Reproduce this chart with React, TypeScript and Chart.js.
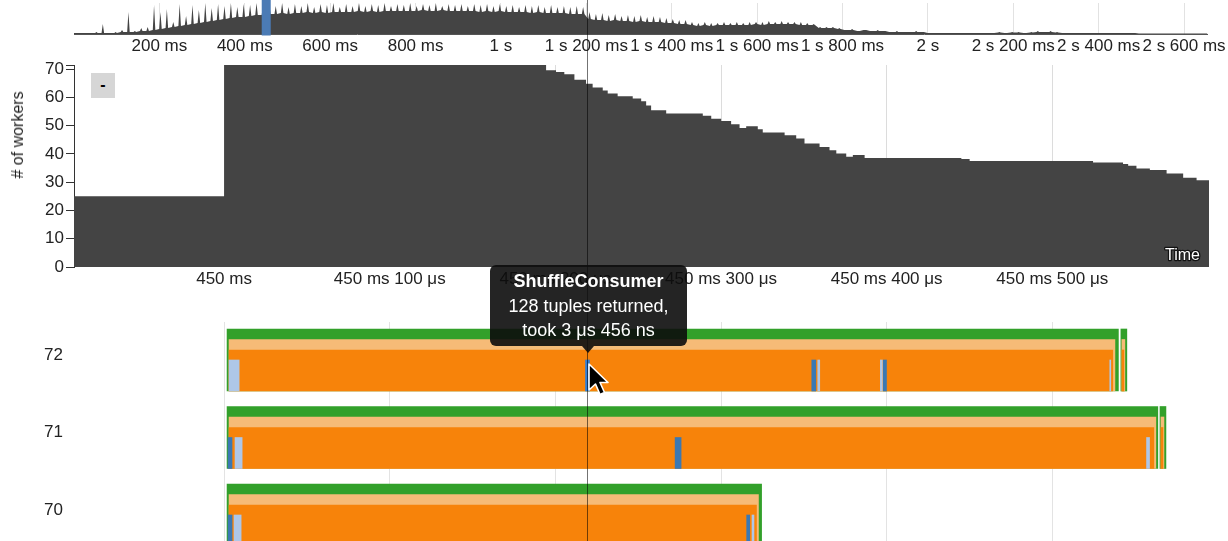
import React, { useEffect, useRef } from 'react';
import { Chart, registerables } from 'chart.js';

Chart.register(...registerables);

const FONT = "'Liberation Sans', Arial, Helvetica, sans-serif";
const TEXT = '#222';

// ---------- overview (whole query, ms) ----------
const overviewBinMs = 15;
const overviewEndMs = 2655;
// per 15 ms bin: solid level and thin spike top
const overviewBase = [
  1, 1, 1, 1, 1, 1, 1, 2, 2, 2,
  3, 3, 4, 5, 6, 7, 8, 9, 10, 11,
  12, 13, 14, 15, 16, 17, 17, 18, 19, 19,
  20, 20, 21, 20, 21, 21, 22, 21, 22, 21,
  22, 22, 22, 22, 23, 22, 23, 22, 23, 23,
  23, 23, 23, 23, 24, 23, 23, 24, 23, 23,
  23, 23, 23, 22, 23, 22, 23, 22, 22, 22,
  22, 21, 22, 21, 21, 21, 21, 20, 20, 20,
  15, 14, 14, 13, 14, 13, 13, 12, 13, 12,
  12, 12, 11, 11, 10, 10, 9, 8, 9, 8,
  9, 9, 9, 9, 9, 9, 10, 9, 10, 10,
  10, 10, 10, 9, 9, 9, 6, 6, 6, 5,
  4, 4, 3, 4, 3, 3, 3, 2, 2, 2,
  2, 2, 2, 1, 1, 1, 1, 1, 1, 1,
  1, 1, 1, 1, 1.5, 1, 1.5, 1.5, 1, 1.5,
  2, 2, 2, 1.5, 1, 1, 1, 1, 1, 1,
  1, 1, 1, 1, 1, 1, 0.5, 0.5, 0.5, 0.5,
  0.5, 0.5, 0.5, 0.5, 0.5, 0.5, 0.5,
];
const overviewPeak = [
  1, 1, 1, 2, 10, 1, 2, 4, 22, 3,
  6, 7, 29, 22, 25, 12, 30, 18, 29, 24,
  31, 26, 30, 28, 31, 27, 30, 29, 31, 27,
  30, 28, 31, 27, 30, 28, 31, 27, 30, 29,
  31, 27, 30, 28, 31, 28, 30, 29, 31, 28,
  30, 29, 31, 28, 30, 29, 31, 28, 30, 29,
  30, 28, 30, 29, 30, 28, 30, 28, 29, 27,
  29, 28, 29, 27, 29, 27, 28, 27, 28, 27,
  22, 20, 21, 19, 20, 18, 19, 18, 19, 17,
  18, 17, 16, 15, 14, 14, 12, 11, 12, 11,
  11, 12, 11, 12, 11, 12, 12, 12, 13, 12,
  13, 12, 12, 12, 11, 10, 7, 7, 7, 6,
  4, 5, 3, 4, 3, 4, 3, 2, 3, 2,
  2, 3, 2, 1, 1, 1, 1, 1, 1, 1,
  1, 1, 1, 1, 2, 1, 2, 2, 1, 2,
  3, 2, 3, 2, 1, 1, 1, 1, 1, 1,
  1, 1, 1, 1, 1, 1, 0.5, 0.5, 0.5, 0.5,
  0.5, 0.5, 0.5, 0.5, 0.5, 0.5, 0.5,
];
const overviewMax = 31;
const overviewTickValues = [200, 400, 600, 800, 1000, 1200, 1400, 1600, 1800, 2000, 2200, 2400, 2600];
const overviewTickLabels = [
  '200 ms', '400 ms', '600 ms', '800 ms', '1 s', '1 s 200 ms', '1 s 400 ms',
  '1 s 600 ms', '1 s 800 ms', '2 s', '2 s 200 ms', '2 s 400 ms', '2 s 600 ms',
];
const brushRangeMs = [449.9, 450.6];

// ---------- detail (μs after 450 ms) ----------
const detailRangeUs = [-90.6, 594.6];
const workerTimesUs = [
  -90.6, 0, 194.4, 200.4, 205.4, 211.5, 218.5, 222.5, 228.6, 231.6,
  237.6, 246.7, 251.8, 254.8, 257.8, 266.9, 289.0, 294.1, 300.1, 306.1,
  311.2, 315.2, 322.2, 325.2, 338.4, 345.4, 350.4, 359.5, 365.5, 369.6,
  375.6, 379.6, 386.7, 445.1, 450.1, 524.6, 542.7, 545.8, 550.8, 558.9,
  569.0, 579.0, 587.1, 594.6,
];
const workerCounts = [
  25, 72, 69.6, 69, 68.2, 66.3, 64.9, 63.5, 62.5, 61.4,
  60.4, 59.6, 58.7, 57.2, 55.5, 54.3, 53.5, 52.5, 51.7, 50.5,
  49.2, 49.8, 48.8, 47.6, 46.6, 45.5, 43.7, 42.5, 41.3, 40.2,
  39, 39.6, 38.6, 38.2, 37.5, 37, 36.5, 35.8, 34.9, 34.3,
  33.1, 31.6, 30.7, 30.7,
];
const workerAxisMax = 71.5;
const workerTickValues = [0, 10, 20, 30, 40, 50, 60, 70];
const detailTickValues = [0, 100, 200, 300, 400, 500];
const detailTickLabels = [
  '450 ms', '450 ms 100 μs', '450 ms 200 μs', '450 ms 300 μs', '450 ms 400 μs', '450 ms 500 μs',
];

// ---------- per-worker timeline ----------
const workerRows = ['72', '71', '70'];
// [row, start μs, end μs]
const taskSpans: number[][] = [
  [0, 1.8, 539.9], [0, 541.4, 545.0],
  [1, 1.8, 563.7], [1, 565.0, 568.6],
  [2, 1.8, 324.5],
];
const fetchSpans: number[][] = [
  [0, 3.0, 537.8], [0, 542.0, 543.8],
  [1, 3.0, 562.5], [1, 565.6, 567.4],
  [2, 3.0, 322.6],
];
const consumeSpans: number[][] = [
  [0, 3.0, 536.5], [0, 542.0, 543.2],
  [1, 3.0, 561.3], [1, 565.6, 566.8],
  [2, 3.0, 321.4],
];
// [row, start μs, end μs, kind] kind: 0 light, 1 dark, 2 hovered
const operatorEvents: number[][] = [
  [0, 3.0, 9.1, 0], [0, 218.2, 220.6, 2], [0, 354.8, 357.2, 1], [0, 358.4, 359.6, 0],
  [0, 396.2, 397.4, 0], [0, 398.0, 399.9, 1], [0, 534.7, 535.3, 0],
  [1, 2.4, 4.8, 1], [1, 6.6, 10.9, 0], [1, 272.3, 275.9, 1], [1, 556.9, 558.7, 0],
  [2, 2.4, 4.8, 1], [2, 6.0, 10.3, 0], [2, 315.5, 317.3, 1], [2, 318.7, 319.9, 0],
];
const eventColors = ['#aec7e8', '#3b78b2', '#2f7fd9'];

const tickFont = { family: FONT, size: 17 };
const spikeHalfMs = 3;

const brushPlugin = {
  id: 'brush',
  afterDatasetsDraw(chart: any) {
    const x = chart.scales.x;
    const a = x.getPixelForValue(brushRangeMs[0]);
    const b = x.getPixelForValue(brushRangeMs[1]);
    const c = (a + b) / 2;
    const w = Math.max(9, b - a);
    const ctx = chart.ctx;
    ctx.save();
    ctx.fillStyle = '#4b7bb5';
    ctx.fillRect(c - w / 2, 0, w, chart.chartArea.bottom + 1.5);
    ctx.restore();
  },
};

const timeLabelPlugin = {
  id: 'timeLabel',
  afterDatasetsDraw(chart: any) {
    const { right, bottom } = chart.chartArea;
    const ctx = chart.ctx;
    ctx.save();
    ctx.font = `16px ${FONT}`;
    ctx.textAlign = 'right';
    ctx.textBaseline = 'alphabetic';
    ctx.lineWidth = 2.5;
    ctx.strokeStyle = '#111';
    ctx.lineJoin = 'round';
    ctx.strokeText('Time', right - 9, bottom - 7);
    ctx.fillStyle = '#fff';
    ctx.fillText('Time', right - 9, bottom - 7);
    ctx.restore();
  },
};

function layerDataset(spans: number[][], color: string | string[], offset: number, thickness: number) {
  return {
    data: spans.map((s) => ({ y: s[0] + offset, x: [s[1], s[2]] })),
    backgroundColor: color,
    borderWidth: 0,
    barThickness: thickness,
    stack: 'rows',
  };
}

const noEndPadding = (s: any) => {
  s.width = 74;
  s.paddingTop = 0;
  s.paddingBottom = 0;
};

export default function App() {
  const ovRef = useRef<HTMLCanvasElement>(null);
  const detRef = useRef<HTMLCanvasElement>(null);
  const ganttRef = useRef<HTMLCanvasElement>(null);

  useEffect(() => {
    const charts: Chart[] = [];

    const ovData: { x: number; y: number }[] = [{ x: 0, y: overviewBase[0] }];
    overviewBase.forEach((b, i) => {
      const c = (i + 0.5) * overviewBinMs;
      ovData.push({ x: c - spikeHalfMs, y: b });
      ovData.push({ x: c, y: overviewPeak[i] });
      ovData.push({ x: c + spikeHalfMs, y: b });
    });
    ovData.push({ x: overviewEndMs, y: overviewBase[overviewBase.length - 1] });

    charts.push(
      new Chart(ovRef.current!, {
        type: 'line',
        data: {
          datasets: [
            {
              data: ovData,
              fill: 'origin',
              backgroundColor: '#444',
              borderWidth: 0,
              pointRadius: 0,
              tension: 0,
            },
          ],
        },
        options: {
          responsive: false,
          animation: false,
          events: [],
          layout: { padding: { left: 74, right: 19, top: 3, bottom: 0 } },
          plugins: { legend: { display: false }, tooltip: { enabled: false } },
          scales: {
            x: {
              type: 'linear',
              min: 0,
              max: overviewEndMs,
              afterBuildTicks: (s: any) => {
                s.ticks = overviewTickValues.map((v) => ({ value: v }));
              },
              afterFit: (s: any) => {
                s.height = 26;
              },
              grid: { color: '#e2e2e2', drawTicks: false },
              border: { color: '#555' },
              ticks: {
                padding: 2,
                autoSkip: false,
                maxRotation: 0,
                color: TEXT,
                font: tickFont,
                callback: (_v: any, i: number) => overviewTickLabels[i],
              },
            },
            y: { display: false, min: 0, max: overviewMax },
          },
        } as any,
        plugins: [brushPlugin],
      })
    );

    charts.push(
      new Chart(detRef.current!, {
        type: 'line',
        data: {
          datasets: [
            {
              data: workerTimesUs.map((t, i) => ({ x: t, y: workerCounts[i] })),
              stepped: true,
              fill: 'origin',
              backgroundColor: '#444',
              borderWidth: 0,
              pointRadius: 0,
            },
          ],
        },
        options: {
          responsive: false,
          animation: false,
          events: [],
          layout: { padding: { left: 0, right: 19, top: 10, bottom: 0 } },
          plugins: { legend: { display: false }, tooltip: { enabled: false } },
          scales: {
            x: {
              type: 'linear',
              min: detailRangeUs[0],
              max: detailRangeUs[1],
              afterBuildTicks: (s: any) => {
                s.ticks = detailTickValues.map((v) => ({ value: v }));
              },
              afterFit: (s: any) => {
                s.height = 28;
              },
              grid: { color: '#dcdcdc', drawTicks: false },
              border: { display: false },
              ticks: {
                padding: 2,
                autoSkip: false,
                maxRotation: 0,
                color: TEXT,
                font: tickFont,
                callback: (_v: any, i: number) => detailTickLabels[i],
              },
            },
            y: {
              min: 0,
              max: workerAxisMax,
              afterBuildTicks: (s: any) => {
                s.ticks = [...workerTickValues, workerAxisMax].map((v) => ({ value: v }));
              },
              afterFit: noEndPadding,
              grid: { drawOnChartArea: false, drawTicks: true, tickLength: 8, color: '#333' },
              border: { color: '#333' },
              ticks: {
                padding: 2,
                color: TEXT,
                font: tickFont,
                callback: (v: any) => (workerTickValues.includes(v) ? String(v) : ''),
              },
            },
          },
        } as any,
        plugins: [timeLabelPlugin],
      })
    );

    charts.push(
      new Chart(ganttRef.current!, {
        type: 'bar',
        data: {
          datasets: [
            layerDataset(operatorEvents, operatorEvents.map((e) => eventColors[e[3]]), 0.6, 31),
            layerDataset(consumeSpans, '#f7830a', 0.5355, 41),
            layerDataset(fetchSpans, '#f6bb77', 0.4677, 51.5),
            layerDataset(taskSpans, '#32a02a', 0.4, 62),
          ],
        } as any,
        options: {
          indexAxis: 'y',
          responsive: false,
          animation: false,
          events: [],
          layout: { padding: { left: 0, right: 19, top: 22, bottom: 0 } },
          plugins: { legend: { display: false }, tooltip: { enabled: false } },
          scales: {
            x: {
              type: 'linear',
              stacked: false,
              min: detailRangeUs[0],
              max: detailRangeUs[1],
              afterBuildTicks: (s: any) => {
                s.ticks = detailTickValues.map((v) => ({ value: v }));
              },
              afterFit: (s: any) => {
                s.height = 0;
              },
              grid: { color: '#e3e3e3', drawTicks: false },
              border: { display: false },
              ticks: { display: false },
            },
            y: {
              type: 'linear',
              reverse: true,
              offset: false,
              min: -0.0903,
              max: 2.7355,
              afterBuildTicks: (s: any) => {
                s.ticks = workerRows.map((_r, i) => ({ value: i + 0.335 }));
              },
              afterFit: noEndPadding,
              grid: { display: false, drawTicks: false, offset: false },
              border: { display: false },
              ticks: {
                padding: 11,
                color: TEXT,
                font: tickFont,
                callback: (_v: any, i: number) => workerRows[i],
              },
            },
          },
        } as any,
      })
    );

    return () => charts.forEach((c) => c.destroy());
  }, []);

  return (
    <div
      style={{
        position: 'absolute',
        left: 0,
        top: 0,
        width: 1228,
        height: 541,
        overflow: 'hidden',
        background: '#fff',
        fontFamily: FONT,
      }}
    >
      <canvas ref={ovRef} width={1228} height={60} style={{ position: 'absolute', left: 0, top: 0 }} />
      <canvas ref={detRef} width={1228} height={240} style={{ position: 'absolute', left: 0, top: 55 }} />
      <canvas ref={ganttRef} width={1228} height={241} style={{ position: 'absolute', left: 0, top: 300 }} />

      <div
        style={{
          position: 'absolute',
          left: 18,
          top: 135,
          transform: 'translate(-50%, -50%) rotate(-90deg)',
          whiteSpace: 'nowrap',
          fontSize: 16,
          color: TEXT,
        }}
      >
        # of workers
      </div>

      <div
        style={{
          position: 'absolute',
          left: 91,
          top: 73,
          width: 24,
          height: 25,
          background: '#d6d6d6',
          color: '#000',
          fontWeight: 'bold',
          fontSize: 16,
          lineHeight: '23px',
          textAlign: 'center',
        }}
      >
        -
      </div>

      <div
        style={{
          position: 'absolute',
          left: 587,
          top: 0,
          width: 1,
          height: 541,
          background: 'rgba(0,0,0,0.55)',
        }}
      />

      <div
        style={{
          position: 'absolute',
          left: 490,
          top: 265,
          width: 197,
          height: 81,
          boxSizing: 'border-box',
          paddingTop: 4,
          background: 'rgba(12,12,12,0.9)',
          borderRadius: 6,
          color: '#fff',
          fontSize: 18,
          lineHeight: '24.5px',
          textAlign: 'center',
        }}
      >
        <div style={{ fontWeight: 'bold' }}>ShuffleConsumer</div>
        <div>128 tuples returned,</div>
        <div>took 3 μs 456 ns</div>
      </div>
      <div
        style={{
          position: 'absolute',
          left: 582,
          top: 346,
          width: 0,
          height: 0,
          borderLeft: '6px solid transparent',
          borderRight: '6px solid transparent',
          borderTop: '7px solid rgba(12,12,12,0.9)',
        }}
      />

      <svg
        width={30}
        height={40}
        style={{ position: 'absolute', left: 588, top: 363 }}
        viewBox="0 0 30 40"
      >
        <path
          d="M1,1 L1,27 L7.5,21 L12,31.5 L16.5,29.5 L12,19.5 L20,19.5 Z"
          fill="#000"
          stroke="#fff"
          strokeWidth={1.6}
          strokeLinejoin="round"
        />
      </svg>
    </div>
  );
}
